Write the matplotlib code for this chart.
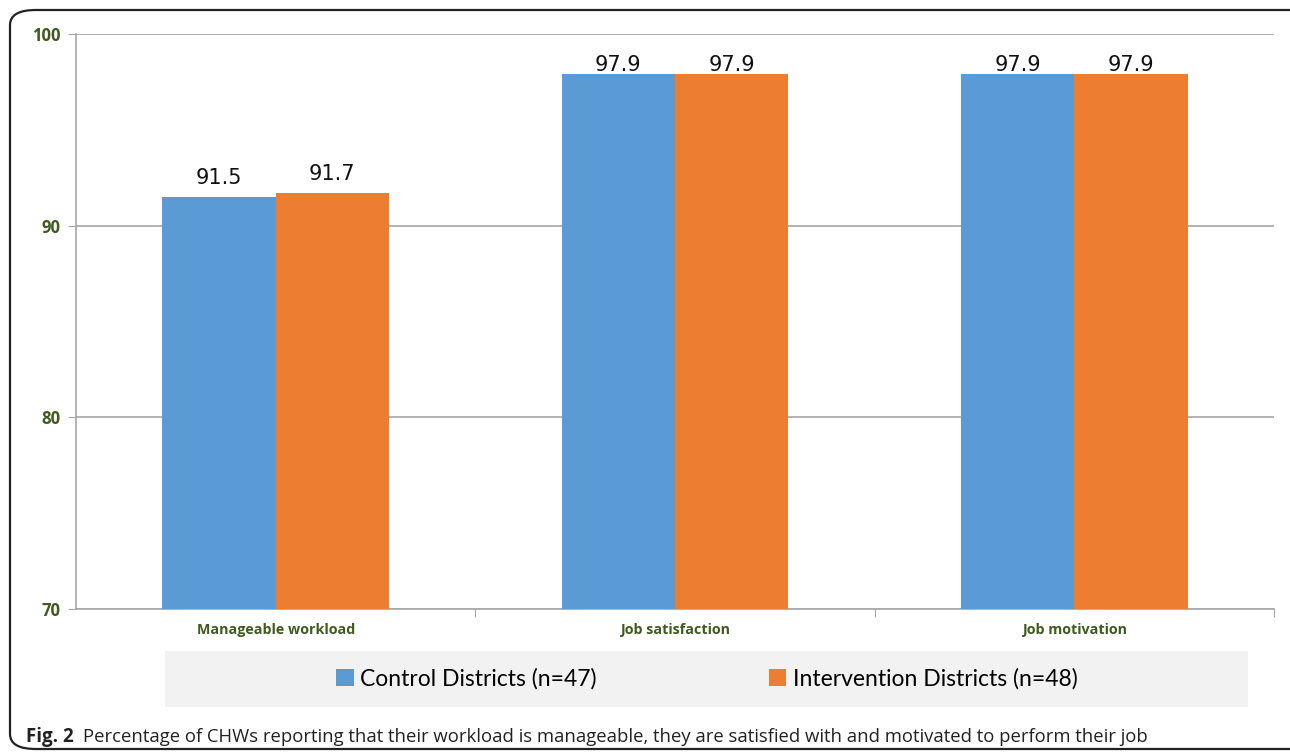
import matplotlib.pyplot as plt
from matplotlib.patches import FancyBboxPatch, Rectangle, Patch
import numpy as np

cblue = '#5B9BD5'
corange = '#ED7D31'
cgreen = '#3F5A1E'

categories = ['Manageable workload', 'Job satisfaction', 'Job motivation']
control = [91.5, 97.9, 97.9]
intervention = [91.7, 97.9, 97.9]
yticks = [70, 80, 90, 100]

fig = plt.figure(figsize=(12.9, 7.53), dpi=100)
W, H = 1290, 753

# rounded frame round the whole figure
frame = FancyBboxPatch((10 / W, 4 / H), 1.2, 1 - 14 / H,
                       boxstyle='round,pad=0,rounding_size=0.02',
                       transform=fig.transFigure, fill=False,
                       edgecolor='#222222', linewidth=1.6)
fig.patches.append(frame)

ax = fig.add_axes([76 / W, 1 - 609 / H, (1274 - 76) / W, (609 - 34) / H])

ind = np.arange(len(categories))
width = 0.284
b1 = ax.bar(ind - width / 2, control, width, color=cblue, zorder=3)
b2 = ax.bar(ind + width / 2, intervention, width, color=corange, zorder=3)

# labels sit above the bars but are kept inside the plot area (as in Excel)
for bars in (b1, b2):
    for r in bars:
        h = r.get_height()
        ax.text(r.get_x() + r.get_width() / 2, min(h + 1.0, 98.4),
                f'{h:.1f}', ha='center', va='center',
                fontsize=15, family='DejaVu Sans', color='#111111')

ax.set_ylim(70, 100)
ax.set_xlim(-0.5, 2.5)
ax.set_yticks(yticks)
ax.set_yticklabels([str(t) for t in yticks], fontsize=12, fontweight='bold',
                   color=cgreen, family='Open Sans')
ax.yaxis.grid(True, color='#A6A6A6', linewidth=1.2, zorder=0)

# category ticks at the boundaries, labels at centres
ax.set_xticks([0.5, 1.5, 2.5])
ax.set_xticklabels([])
ax.set_xticks(ind, minor=True)
ax.set_xticklabels(categories, minor=True, fontsize=10.3, fontweight='bold',
                   color=cgreen, family='Open Sans')
ax.tick_params(axis='x', which='minor', length=0, pad=10)
ax.tick_params(axis='x', which='major', length=6, color='#A6A6A6')
ax.tick_params(axis='y', length=6, color='#A6A6A6', pad=5)

for s in ('top', 'right'):
    ax.spines[s].set_visible(False)
for s in ('left', 'bottom'):
    ax.spines[s].set_color('#A6A6A6')
    ax.spines[s].set_linewidth(1.2)

# legend on a grey strip
fig.patches.append(Rectangle((165 / W, 1 - 707 / H), (1248 - 165) / W, 56 / H,
                             transform=fig.transFigure, facecolor='#F2F2F2',
                             edgecolor='none'))
handles = [Patch(facecolor=cblue, label='Control Districts (n=47)'),
           Patch(facecolor=corange, label='Intervention Districts (n=48)')]
fig.legend(handles=handles, loc='center', bbox_to_anchor=(707 / W, 1 - 679 / H),
           ncol=2, frameon=False, prop={'family': 'Lato', 'size': 16.5},
           handlelength=0.75, handleheight=0.75, handletextpad=0.3,
           columnspacing=7.5)

fig.text(26 / W, 1 - 737 / H, 'Fig. 2', fontsize=13.5, fontweight='bold',
         family='Open Sans', va='center', ha='left', color='#222222')
fig.text(83 / W, 1 - 737 / H,
         'Percentage of CHWs reporting that their workload is manageable, '
         'they are satisfied with and motivated to perform their job',
         fontsize=13.3, family='Open Sans', va='center', ha='left',
         color='#222222')

plt.savefig('out.png', dpi=100)
